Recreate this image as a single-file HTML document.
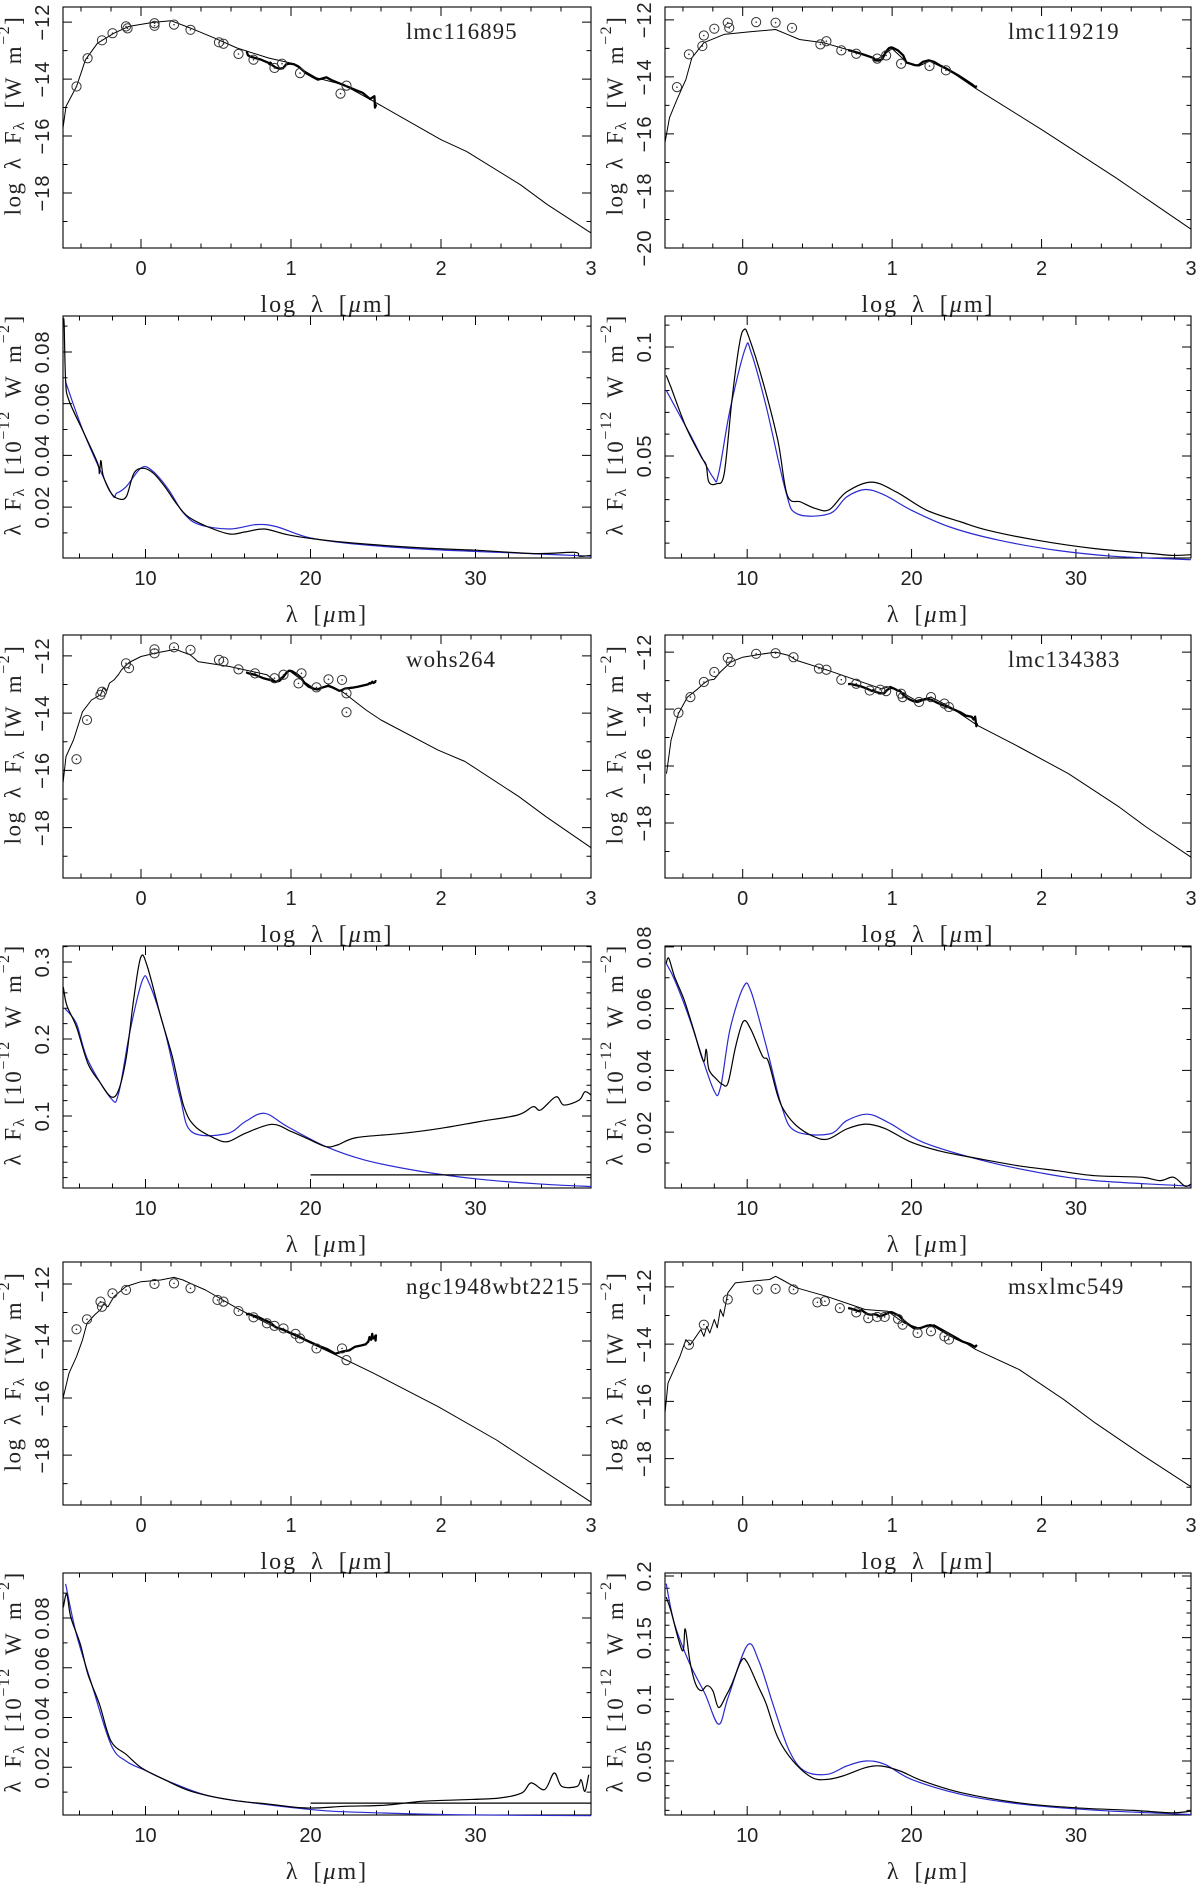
<!DOCTYPE html>
<html><head><meta charset="utf-8"><style>
html,body{margin:0;padding:0;background:#fff;}
svg{display:block;}
</style></head><body>
<svg id="fig" width="1200" height="1884" viewBox="0 0 1200 1884" xmlns="http://www.w3.org/2000/svg"></svg>
<script>
// ---------- SED data (log lambda, log lambda F_lambda) ----------
const sed1ModelX=[-0.52,-0.50,-0.43,-0.37,-0.29,-0.18,-0.08,0.08,0.20,0.33,0.49,0.64,0.85,1.0,1.17,1.35,1.55,2.0,2.17,2.53,2.71,3.0];
const sed1ModelY=[-15.72,-14.96,-14.26,-13.32,-12.74,-12.39,-12.15,-12.01,-11.95,-12.21,-12.56,-12.91,-13.26,-13.44,-13.96,-14.2,-14.78,-16.13,-16.54,-17.71,-18.41,-19.4];
const sed1PhotX=[-0.43,-0.356,-0.26,-0.19,-0.10,-0.09,0.09,0.09,0.22,0.33,0.52,0.55,0.65,0.75,0.89,0.94,1.06,1.33,1.37];
const sed1PhotY=[-14.26,-13.27,-12.64,-12.39,-12.15,-12.22,-12.04,-12.13,-12.09,-12.27,-12.71,-12.76,-13.12,-13.32,-13.61,-13.46,-13.79,-14.51,-14.23];

const sed2ModelX=[-0.52,-0.49,-0.44,-0.38,-0.34,-0.26,-0.125,0.05,0.22,0.30,0.38,0.54,0.77,0.90,1.0,1.1,1.18,1.25,1.39,1.57,2.0,2.5,3.0];
const sed2ModelY=[-16.3,-15.43,-14.79,-14.09,-13.33,-12.8,-12.51,-12.42,-12.34,-12.51,-12.69,-12.8,-13.15,-13.39,-13.01,-13.5,-13.62,-13.45,-13.8,-14.44,-15.85,-17.55,-19.34];
const sed2PhotX=[-0.44,-0.36,-0.27,-0.26,-0.19,-0.10,-0.09,0.09,0.22,0.33,0.52,0.56,0.66,0.76,0.90,0.96,1.06,1.25,1.36];
const sed2PhotY=[-14.36,-13.21,-12.92,-12.55,-12.31,-12.10,-12.28,-12.08,-12.10,-12.28,-12.86,-12.75,-13.07,-13.19,-13.36,-13.25,-13.54,-13.62,-13.77];

const sed3ModelX=[-0.52,-0.5,-0.45,-0.39,-0.33,-0.27,-0.25,-0.23,-0.21,-0.18,-0.15,-0.13,-0.08,0,0.1,0.23,0.33,0.38,0.59,0.84,0.9,0.99,1.07,1.17,1.25,1.35,1.5,1.6,1.98,2.16,2.52,2.7,3.0];
const sed3ModelY=[-16.45,-15.52,-14.94,-13.95,-13.54,-13.36,-13.1,-13.25,-12.95,-12.84,-12.65,-12.49,-12.23,-12.02,-11.9,-11.77,-11.97,-12.2,-12.37,-12.66,-12.9,-12.52,-12.84,-13.19,-13.01,-13.28,-13.89,-14.24,-15.29,-15.69,-16.92,-17.62,-18.7];
const sed3PhotX=[-0.43,-0.36,-0.27,-0.26,-0.10,-0.08,0.09,0.09,0.22,0.33,0.52,0.55,0.65,0.76,0.89,0.95,1.05,1.07,1.17,1.25,1.34,1.37,1.37];
const sed3PhotY=[-15.61,-14.24,-13.36,-13.25,-12.26,-12.43,-11.77,-11.91,-11.7,-11.79,-12.14,-12.2,-12.47,-12.61,-12.78,-12.66,-12.96,-12.61,-13.1,-12.82,-12.84,-13.31,-13.97];

const sed4ModelX=[-0.51,-0.48,-0.43,-0.37,-0.3,-0.26,-0.23,-0.19,-0.15,-0.08,0,0.1,0.22,0.31,0.36,0.57,0.83,0.93,0.99,1.08,1.16,1.26,1.39,1.57,1.85,2.18,2.52,2.7,3.0];
const sed4ModelY=[-16.27,-15.1,-14.16,-13.58,-13.29,-13.1,-12.99,-12.95,-12.7,-12.35,-12.18,-12.09,-12.0,-12.12,-12.29,-12.64,-13.11,-13.29,-13.2,-13.46,-13.7,-13.58,-13.93,-14.57,-15.33,-16.27,-17.44,-18.14,-19.2];
const sed4PhotX=[-0.43,-0.35,-0.26,-0.19,-0.10,-0.08,0.09,0.22,0.34,0.51,0.56,0.66,0.76,0.85,0.92,0.96,1.06,1.07,1.18,1.26,1.35,1.38];
const sed4PhotY=[-14.13,-13.58,-13.05,-12.7,-12.2,-12.35,-12.06,-12.04,-12.18,-12.58,-12.62,-12.97,-13.11,-13.35,-13.32,-13.37,-13.46,-13.58,-13.75,-13.58,-13.81,-13.93];

const sed5ModelX=[-0.52,-0.48,-0.43,-0.39,-0.36,-0.31,-0.27,-0.25,-0.22,-0.18,-0.1,0,0.13,0.22,0.28,0.33,0.43,0.64,0.84,1.04,1.3,1.55,1.98,2.37,3.0];
const sed5ModelY=[-16.01,-15.13,-14.55,-13.96,-13.38,-13.09,-12.9,-12.7,-12.8,-12.44,-12.09,-11.92,-11.86,-11.77,-11.86,-11.98,-12.21,-12.85,-13.38,-13.85,-14.49,-15.13,-16.3,-17.47,-19.65];
const sed5PhotX=[-0.43,-0.36,-0.27,-0.26,-0.19,-0.10,0.09,0.22,0.33,0.51,0.55,0.65,0.75,0.84,0.89,0.95,1.03,1.06,1.17,1.34,1.37];
const sed5PhotY=[-13.59,-13.24,-12.62,-12.8,-12.33,-12.21,-12.0,-11.98,-12.15,-12.56,-12.62,-12.95,-13.17,-13.38,-13.47,-13.56,-13.75,-13.91,-14.26,-14.26,-14.67];

const sed6ModelX=[-0.52,-0.5,-0.46,-0.42,-0.38,-0.35,-0.28,-0.26,-0.24,-0.22,-0.19,-0.17,-0.15,-0.13,-0.1,-0.05,0.05,0.18,0.22,0.26,0.36,0.56,0.82,0.97,1.08,1.18,1.28,1.44,1.56,1.85,2.15,2.36,2.69,3.0];
const sed6ModelY=[-16.41,-15.36,-14.89,-14.43,-13.84,-14.02,-13.49,-13.73,-13.38,-13.61,-13.14,-13.43,-12.79,-13.03,-12.21,-11.86,-11.8,-11.74,-11.63,-11.74,-12.03,-12.33,-12.79,-12.85,-13.26,-13.44,-13.32,-13.79,-14.19,-14.89,-15.94,-16.76,-17.93,-18.98];
const sed6PhotX=[-0.36,-0.26,-0.10,0.10,0.22,0.34,0.50,0.55,0.65,0.76,0.84,0.90,0.95,1.04,1.07,1.17,1.26,1.35,1.38];
const sed6PhotY=[-14.02,-13.32,-12.44,-12.09,-12.07,-12.09,-12.54,-12.5,-12.74,-12.89,-13.09,-13.05,-13.05,-13.12,-13.32,-13.61,-13.55,-13.73,-13.84];

// ---------- IRS spectra (lambda in micron, lambda F_lambda in 1e-12 W m^-2) ----------
const spec1ObsW=[5.02,5.07,5.16,5.35,6.28,7.1,7.2,7.3,7.44,7.9,8.37,8.84,9.3,9.88,10.47,11.16,11.86,12.56,13.72,15.1,16.05,17.2,18.6,20.2,22.56,26.74,30,33.7,36,36.3,37];
const spec1ObsF=[0.093,0.0903,0.069,0.0614,0.0485,0.037,0.033,0.038,0.032,0.0255,0.0232,0.0241,0.0331,0.035,0.0331,0.028,0.0215,0.0164,0.0125,0.0096,0.0104,0.0115,0.0093,0.0077,0.0061,0.0042,0.0033,0.002,0.0025,0.001,0.0013];
const spec1ModW=[5.16,6.28,7.9,8.26,8.84,9.77,10.47,11.4,12.3,13.26,15.1,16.7,17.9,19.77,22.1,26.7,31.4,37];
const spec1ModF=[0.0684,0.0485,0.0256,0.0254,0.028,0.0353,0.0337,0.0267,0.0177,0.0132,0.0115,0.0132,0.0125,0.0084,0.0061,0.0038,0.0025,0.001];

const spec2ObsW=[5.07,5.35,6.28,7.21,7.5,7.67,8.14,8.6,9.07,9.53,9.81,10.1,10.93,11.86,12.44,13.26,14.19,15.0,16.05,17.56,19.07,20.93,23.02,24.65,27.67,31.16,34.65,35.8,37];
const spec2ObsF=[0.087,0.0817,0.0633,0.0495,0.046,0.038,0.0373,0.0419,0.0755,0.1015,0.108,0.1046,0.0847,0.0572,0.032,0.0289,0.0258,0.0254,0.0335,0.038,0.0335,0.0251,0.0197,0.0159,0.0113,0.0075,0.0052,0.0044,0.0047];
const spec2ModW=[5.07,6.5,7.9,8.26,8.95,9.88,10.23,11.16,12.33,13.02,15.0,16.05,17.2,18.37,20.0,22.33,25.35,28.84,32.3,37];
const spec2ModF=[0.0801,0.0602,0.0404,0.0419,0.071,0.0992,0.0977,0.0725,0.0342,0.0235,0.0235,0.0312,0.0346,0.032,0.0251,0.0174,0.0113,0.0067,0.004,0.0024];

const spec3ObsW=[5.02,5.23,5.81,6.51,7.21,7.91,8.37,8.84,9.3,9.72,10.12,10.93,11.63,12.33,13.02,14.19,15.0,16.05,17.67,18.84,19.77,20.93,21.63,22.79,25.58,27.9,30.23,32.56,33.49,33.95,34.88,35.35,36.28,36.63,37];
const spec3ObsF=[0.2676,0.2438,0.2158,0.1682,0.1445,0.125,0.1337,0.1769,0.2546,0.3065,0.2935,0.2287,0.1769,0.1121,0.0862,0.0711,0.0667,0.0775,0.0892,0.0797,0.0711,0.0603,0.0624,0.0719,0.0775,0.084,0.0927,0.1013,0.1121,0.1078,0.125,0.1143,0.1207,0.1315,0.1272];
const spec3ModW=[5.12,5.81,6.51,7.91,8.37,9.07,9.81,10.23,11.16,12.09,12.79,14.88,16.05,17.21,18.6,20.93,23.26,26.74,30.23,33.72,37];
const spec3ModF=[0.2395,0.2201,0.1726,0.1229,0.1294,0.2114,0.2762,0.2719,0.2114,0.125,0.0797,0.0767,0.0927,0.1035,0.0862,0.0603,0.043,0.0279,0.0179,0.0119,0.0084];
const spec3Limit=[20,37,0.0235];

const spec4ObsW=[5.07,5.23,5.58,6.16,6.74,7.33,7.51,7.67,8.14,8.49,8.84,9.3,9.77,10.23,10.93,11.28,11.86,12.33,13.02,13.95,14.88,16.05,17.21,18.37,20.0,21.86,24.19,26.51,28.84,31.16,33.95,35.12,35.93,36.63,37];
const spec4ObsF=[0.0747,0.0763,0.0704,0.0629,0.0532,0.043,0.0468,0.0403,0.0371,0.0355,0.036,0.0478,0.0559,0.0532,0.0446,0.043,0.0317,0.0263,0.022,0.0188,0.0177,0.021,0.0226,0.0212,0.0167,0.0137,0.0113,0.0091,0.0075,0.0059,0.0054,0.0043,0.0054,0.0025,0.0032];
const spec4ModW=[5.07,5.58,6.51,7.9,8.37,8.95,9.77,10.23,11.16,12.09,12.91,15.0,16.05,17.33,18.6,20.7,24.19,27.67,31.16,37];
const spec4ModF=[0.0747,0.0694,0.0565,0.0344,0.0344,0.0532,0.067,0.0656,0.0478,0.0285,0.0204,0.0194,0.0237,0.0258,0.0231,0.0167,0.011,0.007,0.0043,0.0025];

const spec5ObsW=[5.02,5.23,5.47,6.05,6.51,7.21,7.91,8.84,9.77,11.16,12.79,15.12,17.44,19.77,22.09,24.42,26.74,29.07,31.4,32.79,33.37,34.19,34.77,35.23,36.16,36.4,36.63,36.86];
const spec5ObsF=[0.0843,0.0897,0.0803,0.0695,0.0574,0.0453,0.0305,0.0251,0.0197,0.015,0.0103,0.0069,0.0052,0.0036,0.0043,0.0047,0.0063,0.0069,0.0076,0.0096,0.0137,0.011,0.0177,0.0123,0.0123,0.015,0.0103,0.017];
const spec5ModW=[5.16,5.81,6.74,7.91,8.84,10,11.63,13.95,17.44,20.93,24.42,29.07,37];
const spec5ModF=[0.0937,0.0735,0.0534,0.0291,0.0224,0.0187,0.0137,0.0083,0.0049,0.0025,0.0016,0.0009,0.0005];
const spec5Limit=[20,37,0.0056];

const spec6ObsW=[5.07,5.35,6.05,6.23,6.51,6.86,7.21,7.56,7.91,8.26,8.72,9.07,9.65,10,10.7,11.16,11.86,12.79,13.95,14.88,15.81,17.21,18.14,19.3,20.7,23.02,26.51,30,33.49,35.81,37];
const spec6ObsF=[0.1829,0.1721,0.1395,0.1571,0.1314,0.1124,0.107,0.111,0.107,0.0934,0.1029,0.1124,0.1314,0.13,0.1097,0.0961,0.069,0.05,0.0365,0.0351,0.0378,0.0446,0.0459,0.0419,0.0337,0.0243,0.0161,0.012,0.0099,0.008,0.0093];
const spec6ModW=[5.07,5.58,6.51,7.44,8.26,8.84,10,10.7,11.63,12.56,13.49,14.88,16.05,17.21,18.37,20,23.02,26.51,31.16,37];
const spec6ModF=[0.1938,0.1612,0.1287,0.1043,0.0798,0.1015,0.1436,0.1314,0.0934,0.0582,0.0419,0.0392,0.0459,0.05,0.0473,0.0351,0.0229,0.0153,0.0101,0.0066];

const sedXTicks=["0","1","2","3"];
const specXTicks=["10","20","30"];

// ---------- layout ----------
const NS="http://www.w3.org/2000/svg";
const svg=document.getElementById('fig');
const COLS=[[63,591],[665,1191]];
const ROWS=[[7,248],[316,558],[635,878],[946,1188],[1262,1505],[1573,1815]];
const BLUE="#2a2ad0";

function el(tag,attrs,parent){const e=document.createElementNS(NS,tag);for(const k in attrs)e.setAttribute(k,attrs[k]);(parent||svg).appendChild(e);return e;}
function fmtNum(v){let s=(Math.abs(v)<1e-9?0:v).toFixed(2);if(s.indexOf('.')>=0)s=s.replace(/0+$/,'').replace(/\.$/,'');return s.replace('-','\u2212');}

function frame(col,row,xmin,xmax,ymin,ymax,xmaj,xmin_,ymaj,ymin_,name){
  const [x0,x1]=COLS[col],[y0,y1]=ROWS[row];
  const g=el('g',{});
  
  
  const sx=v=>x0+(v-xmin)/(xmax-xmin)*(x1-x0);
  const sy=v=>y1-(v-ymin)/(ymax-ymin)*(y1-y0);
  const box=el('rect',{x:x0,y:y0,width:x1-x0,height:y1-y0,fill:'none',stroke:'#000','stroke-width':1.1},g);
  
  
  let d='';
  const eps=1e-9;
  for(let v=Math.ceil((xmin-eps)/xmin_)*xmin_;v<=xmax+eps;v+=xmin_){
    const isMaj=Math.abs(v/xmaj-Math.round(v/xmaj))<1e-6;const L=isMaj?9:4.5;const X=sx(v);
    d+=`M${X} ${y1}v${-L}M${X} ${y0}v${L}`;
  }
  for(let v=Math.ceil((ymin-eps)/ymin_)*ymin_;v<=ymax+eps;v+=ymin_){
    const isMaj=Math.abs(v/ymaj-Math.round(v/ymaj))<1e-6;const L=isMaj?9:4.5;const Y=sy(v);
    d+=`M${x0} ${Y}h${L}M${x1} ${Y}h${-L}`;
  }
  const t=el('path',{d:d,stroke:'#000','stroke-width':1,fill:'none'},g);
  
  
  for(let v=Math.ceil((ymin-eps)/ymaj)*ymaj;v<=ymax+eps;v+=ymaj){
    if(Math.abs(v)<1e-9)continue;
    const Y=sy(v),X=x0-20;
    const tx=el('text',{x:X,y:Y,transform:`rotate(-90 ${X} ${Y})`,'text-anchor':'middle','dominant-baseline':'central','font-family':'"Liberation Sans",sans-serif','font-size':20,'letter-spacing':1,fill:'#222'},g);
    
    
    tx.textContent=fmtNum(v);
  }
  return {g,sx,sy,x0,x1,y0,y1};
}
function line(p,xs,ys,color,w,name,smooth){
  const P=xs.map((x,i)=>[p.sx(x),p.sy(ys[i])]);
  let d='M'+P[0][0].toFixed(1)+' '+P[0][1].toFixed(1);
  for(let i=1;i<P.length;i++){
    if(smooth){
      const p0=P[Math.max(0,i-2)],p1=P[i-1],p2=P[i],p3=P[Math.min(P.length-1,i+1)];
      const c1=[p1[0]+(p2[0]-p0[0])/6,p1[1]+(p2[1]-p0[1])/6];
      const c2=[p2[0]-(p3[0]-p1[0])/6,p2[1]-(p3[1]-p1[1])/6];
      d+=`C${c1[0].toFixed(1)} ${c1[1].toFixed(1)} ${c2[0].toFixed(1)} ${c2[1].toFixed(1)} ${p2[0].toFixed(1)} ${p2[1].toFixed(1)}`;
    } else d+='L'+P[i][0].toFixed(1)+' '+P[i][1].toFixed(1);
  }
  const e=el('path',{d:d,fill:'none',stroke:color,'stroke-width':w,'stroke-linejoin':'round'},p.g);
  
  
  return e;
}
function xLabels(p,vals,labels,title){
  vals.forEach((v,i)=>{
    const tx=el('text',{x:p.sx(v),y:p.y1+27,'text-anchor':'middle','font-family':'"Liberation Sans",sans-serif','font-size':20,fill:'#222'},p.g);
    
    
    tx.textContent=labels[i];
  });
  const cx=(p.x0+p.x1)/2;
  const t=el('text',{x:cx,y:p.y1+64,'text-anchor':'middle','font-family':'"Liberation Serif",serif','font-size':24,'letter-spacing':2,'word-spacing':6,fill:'#222'},p.g);
  
  
  if(title==='log'){t.innerHTML='log &#955; [<tspan font-style="italic">&#956;</tspan>m]';}
  else{t.innerHTML='&#955; [<tspan font-style="italic">&#956;</tspan>m]';}
}
function yTitle(p,kind){
  const X=p.x0-50,Y=(p.y0+p.y1)/2-12;
  const t=el('text',{x:X,y:Y,transform:`rotate(-90 ${X} ${Y})`,'text-anchor':'middle','dominant-baseline':'central','font-family':'"Liberation Serif",serif','font-size':23,'letter-spacing':1.5,'word-spacing':5,fill:'#222'},p.g);
  
  
  if(kind==='log') t.innerHTML='log &#955; F<tspan dy="6" font-size="16">&#955;</tspan><tspan dy="-6"> [W  m</tspan><tspan dy="-9" font-size="16">&#8722;2</tspan><tspan dy="9">]</tspan>';
  else t.innerHTML='&#955; F<tspan dy="6" font-size="16">&#955;</tspan><tspan dy="-6"> [10</tspan><tspan dy="-9" font-size="16">&#8722;12</tspan><tspan dy="9"> W  m</tspan><tspan dy="-9" font-size="16">&#8722;2</tspan><tspan dy="9">]</tspan>';
}

function sedPanel(col,row,ymin,ymax,mx,my,px,py,sw,sf,label,name){
  const p=frame(col,row,-0.52,3.0,ymin,ymax,1,0.2,2,1,name);
  line(p,mx,my,'#000',1,'model-sed-line',false);
  const lx=sw.map(v=>Math.log10(v)),ly=sf.map(v=>Math.log10(v*1e-12));
  line(p,lx,ly,'#000',2.3,'irs-spectrum-line',false);
  for(let i=0;i<px.length;i++){
    const c=el('circle',{cx:p.sx(px[i]),cy:p.sy(py[i]),r:4.6,fill:'none',stroke:'#333','stroke-width':1},p.g);
    
    
    const dd=el('circle',{cx:p.sx(px[i]),cy:p.sy(py[i]),r:0.8,fill:'#333'},p.g);
    
    
  }
  const t=el('text',{x:p.x0+343,y:p.y0+32,'font-family':'"Liberation Serif",serif','font-size':23,'letter-spacing':1,fill:'#222'},p.g);
  
  
  t.textContent=label;
  xLabels(p,[0,1,2,3],sedXTicks,'log');
  yTitle(p,'log');
}
function specPanel(col,row,ymin,ymax,ymaj,ymn,ow,of,mw,mf,lim,name){
  const p=frame(col,row,5,37,ymin,ymax,10,2,ymaj,ymn,name);
  line(p,mw,mf,BLUE,1.2,'model-spectrum-line',true);
  line(p,ow,of,'#000',1.2,'observed-spectrum-line',true);
  if(lim){line(p,[lim[0],lim[1]],[lim[2],lim[2]],'#000',1.2,'limit-line',false);}
  xLabels(p,[10,20,30],specXTicks,'lin');
  yTitle(p,'lin');
}

sedPanel(0,0,-19.93,-11.47,sed1ModelX,sed1ModelY,sed1PhotX,sed1PhotY,spec1ObsW,spec1ObsF,'lmc116895','sed-lmc116895');
sedPanel(1,0,-20.0,-11.55,sed2ModelX,sed2ModelY,sed2PhotX,sed2PhotY,spec2ObsW,spec2ObsF,'lmc119219','sed-lmc119219');
specPanel(0,1,0.0003,0.0939,0.02,0.01,spec1ObsW,spec1ObsF,spec1ModW,spec1ModF,null,'spectrum-lmc116895');
specPanel(1,1,0.0032,0.1142,0.05,0.01,spec2ObsW,spec2ObsF,spec2ModW,spec2ModF,null,'spectrum-lmc119219');
sedPanel(0,2,-19.76,-11.27,sed3ModelX,sed3ModelY,sed3PhotX,sed3PhotY,spec3ObsW,spec3ObsF,'wohs264','sed-wohs264');
sedPanel(1,2,-19.93,-11.4,sed4ModelX,sed4ModelY,sed4PhotX,sed4PhotY,spec4ObsW,spec4ObsF,'lmc134383','sed-lmc134383');
specPanel(0,3,0.0065,0.3208,0.1,0.02,spec3ObsW,spec3ObsF,spec3ModW,spec3ModF,spec3Limit,'spectrum-wohs264');
specPanel(1,3,0.0019,0.0803,0.02,0.01,spec4ObsW,spec4ObsF,spec4ModW,spec4ModF,null,'spectrum-lmc134383');
sedPanel(0,4,-19.75,-11.23,sed5ModelX,sed5ModelY,sed5PhotX,sed5PhotY,spec5ObsW,spec5ObsF,'ngc1948wbt2215','sed-ngc1948wbt2215');
sedPanel(1,4,-19.62,-11.13,sed6ModelX,sed6ModelY,sed6PhotX,sed6PhotY,spec6ObsW,spec6ObsF,'msxlmc549','sed-msxlmc549');
specPanel(0,5,0.0008,0.0981,0.02,0.01,spec5ObsW,spec5ObsF,spec5ModW,spec5ModF,spec5Limit,'spectrum-ngc1948wbt2215');
specPanel(1,5,0.0062,0.2024,0.05,0.01,spec6ObsW,spec6ObsF,spec6ModW,spec6ModF,null,'spectrum-msxlmc549');
</script>
</body></html>
